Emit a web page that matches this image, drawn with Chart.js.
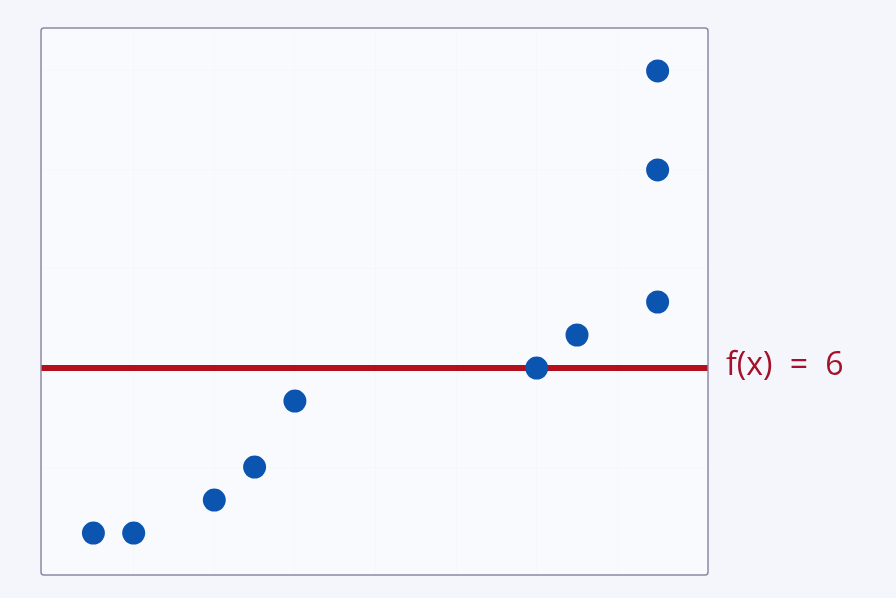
<!DOCTYPE html>
<html>
<head>
<meta charset="utf-8">
<script src="https://cdn.jsdelivr.net/npm/chart.js@4.4.1/dist/chart.umd.min.js"></script>
<style>
    html, body { margin: 0; padding: 0; background: #f4f6fb; }
    #wrap { width: 896px; height: 598px; position: relative; }
</style>
</head>
<body>
<div id="wrap"><canvas id="chart" width="896" height="598"></canvas></div>
<script>
// data
const xValues = [1, 2, 4, 5, 6, 12, 13, 15, 15, 15];
const yValues = [1, 1, 2, 3, 5, 6, 7, 8, 12, 15];
const threshold = 6;
const thresholdLabel = 'f(x) = 6';

const X_RANGE = [-0.3, 16.25];
const Y_RANGE = [-0.27, 16.3];

const points = xValues.map((x, i) => ({ x, y: yValues[i] }));

const frame = {
    id: 'frame',
    beforeDraw(chart) {
        const { ctx, chartArea: a } = chart;
        ctx.save();
        ctx.fillStyle = '#f9fafe';
        ctx.fillRect(a.left, a.top, a.right - a.left, a.bottom - a.top);
        ctx.restore();
    },
    beforeDatasetsDraw(chart) {
        const { ctx, chartArea: a, scales } = chart;
        const y = scales.y.getPixelForValue(threshold);
        ctx.save();
        ctx.strokeStyle = '#b3101e';
        ctx.lineWidth = 6;
        ctx.beginPath();
        ctx.moveTo(a.left, y);
        ctx.lineTo(a.right, y);
        ctx.stroke();
        ctx.fillStyle = '#a3112a';
        ctx.font = "32px 'Open Sans', sans-serif";
        ctx.wordSpacing = '9px';
        ctx.textBaseline = 'middle';
        ctx.fillText(thresholdLabel, a.right + 18, y - 2);
        ctx.restore();
    },
    afterDraw(chart) {
        const { ctx, chartArea: a } = chart;
        ctx.save();
        ctx.strokeStyle = '#8d88a3';
        ctx.lineWidth = 1.5;
        ctx.beginPath();
        ctx.roundRect(a.left, a.top, a.right - a.left, a.bottom - a.top, 3);
        ctx.stroke();
        ctx.restore();
    }
};

new Chart(document.getElementById('chart'), {
    type: 'scatter',
    data: {
        datasets: [{
            data: points,
            backgroundColor: '#0b55b0',
            borderColor: '#0b55b0',
            pointRadius: 11.5,
            pointHoverRadius: 11.5,
            borderWidth: 0,
        }],
    },
    options: {
        responsive: false,
        animation: false,
        layout: { padding: { left: 41, top: 28, right: 188, bottom: 23 } },
        plugins: { legend: { display: false }, tooltip: { enabled: false } },
        scales: {
            x: {
                type: 'linear', min: X_RANGE[0], max: X_RANGE[1],
                ticks: { display: false, stepSize: 2 },
                grid: { color: 'rgba(120,130,170,0.025)', drawTicks: false },
                border: { display: false },
            },
            y: {
                type: 'linear', min: Y_RANGE[0], max: Y_RANGE[1],
                ticks: { display: false, stepSize: 3 },
                grid: { color: 'rgba(120,130,170,0.025)', drawTicks: false },
                border: { display: false },
            },
        },
    },
    plugins: [frame],
});
</script>
</body>
</html>
